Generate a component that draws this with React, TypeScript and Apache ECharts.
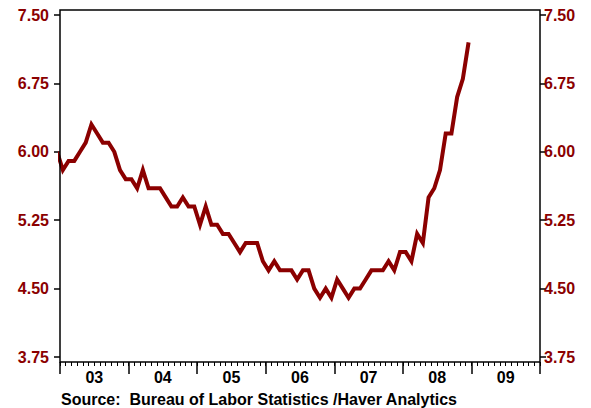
import React, { useEffect, useRef } from "react";
import * as echarts from "echarts";

// Monthly unemployment rate, Dec 2002 .. Dec 2008 (Dec 2002 is clipped at the left edge)
const startMonthIndex = -1; // Dec 2002 relative to Jan 2003
const rates: number[] = [
  6.0,
  // 2003
  5.8, 5.9, 5.9, 6.0, 6.1, 6.3, 6.2, 6.1, 6.1, 6.0, 5.8, 5.7,
  // 2004
  5.7, 5.6, 5.8, 5.6, 5.6, 5.6, 5.5, 5.4, 5.4, 5.5, 5.4, 5.4,
  // 2005
  5.2, 5.4, 5.2, 5.2, 5.1, 5.1, 5.0, 4.9, 5.0, 5.0, 5.0, 4.8,
  // 2006
  4.7, 4.8, 4.7, 4.7, 4.7, 4.6, 4.7, 4.7, 4.5, 4.4, 4.5, 4.4,
  // 2007
  4.6, 4.5, 4.4, 4.5, 4.5, 4.6, 4.7, 4.7, 4.7, 4.8, 4.7, 4.9,
  // 2008
  4.9, 4.8, 5.1, 5.0, 5.5, 5.6, 5.8, 6.2, 6.2, 6.6, 6.8, 7.2,
];
const yearLabels: string[] = ["03", "04", "05", "06", "07", "08", "09"];
const yMin = 3.75;
const yMax = 7.5;
const yStep = 0.75;
const sourceText = "Source:  Bureau of Labor Statistics /Haver Analytics";

const RED = "#8b0000";
const FONT = "'Liberation Sans', Arial, sans-serif";

export default function App() {
  const ref = useRef<HTMLDivElement>(null);
  useEffect(() => {
    if (!ref.current) return;
    const chart = echarts.init(ref.current, undefined, { renderer: "svg" });
    const points = rates.map((v, i) => [startMonthIndex + i + 0.5, v]);
    const yAxisCommon = {
      type: "value" as const,
      min: yMin,
      max: yMax,
      interval: yStep,
      splitLine: { show: false },
      axisLine: { show: false },
      axisTick: { show: true, length: 6, lineStyle: { color: "#000", width: 1.5 } },
    };
    chart.setOption({
      animation: false,
      backgroundColor: "#fff",
      grid: { left: 60, right: 51, top: 15, bottom: 51, containLabel: false },
      xAxis: [
        {
          type: "value",
          min: 0,
          max: yearLabels.length * 12,
          interval: 1,
          position: "bottom",
          offset: 5,
          axisLine: { show: false },
          axisTick: { show: true, length: 4, lineStyle: { color: "#000", width: 1 } },
          axisLabel: { show: false },
          splitLine: { show: false },
        },
        {
          type: "category",
          data: yearLabels,
          boundaryGap: true,
          position: "bottom",
          offset: 5,
          axisLine: { show: false },
          axisTick: { show: true, length: 12, lineStyle: { color: "#000", width: 1.5 } },
          axisLabel: {
            color: "#000",
            fontFamily: FONT,
            fontWeight: "bold",
            fontSize: 16,
            margin: 7,
          },
          splitLine: { show: false },
        },
      ],
      yAxis: [
        {
          ...yAxisCommon,
          position: "left",
          axisLabel: {
            color: RED,
            fontFamily: FONT,
            fontWeight: "bold",
            fontSize: 16,
            margin: 11,
            formatter: (v: number) => v.toFixed(2),
          },
        },
        {
          ...yAxisCommon,
          position: "right",
          axisLabel: {
            color: RED,
            fontFamily: FONT,
            fontWeight: "bold",
            fontSize: 16,
            margin: 4,
            formatter: (v: number) => v.toFixed(2),
          },
        },
      ],
      graphic: [
        {
          type: "rect",
          shape: { x: 60, y: 10, width: 480, height: 352 },
          style: { fill: "none", stroke: "#000", lineWidth: 1.5 },
          z: 100,
          silent: true,
        },
        {
          type: "text",
          x: 61,
          y: 399,
          style: {
            text: sourceText,
            fill: "#000",
            font: `bold 16px ${FONT}`,
            verticalAlign: "middle",
            align: "left",
          },
        },
      ],
      series: [
        {
          type: "line",
          xAxisIndex: 0,
          yAxisIndex: 0,
          data: points,
          showSymbol: false,
          symbol: "none",
          clip: true,
          lineStyle: { color: RED, width: 4, join: "miter" },
        },
      ],
    });
    return () => chart.dispose();
  }, []);
  return (
    <div
      ref={ref}
      style={{ position: "absolute", left: 0, top: 0, width: 591, height: 408 }}
    />
  );
}
